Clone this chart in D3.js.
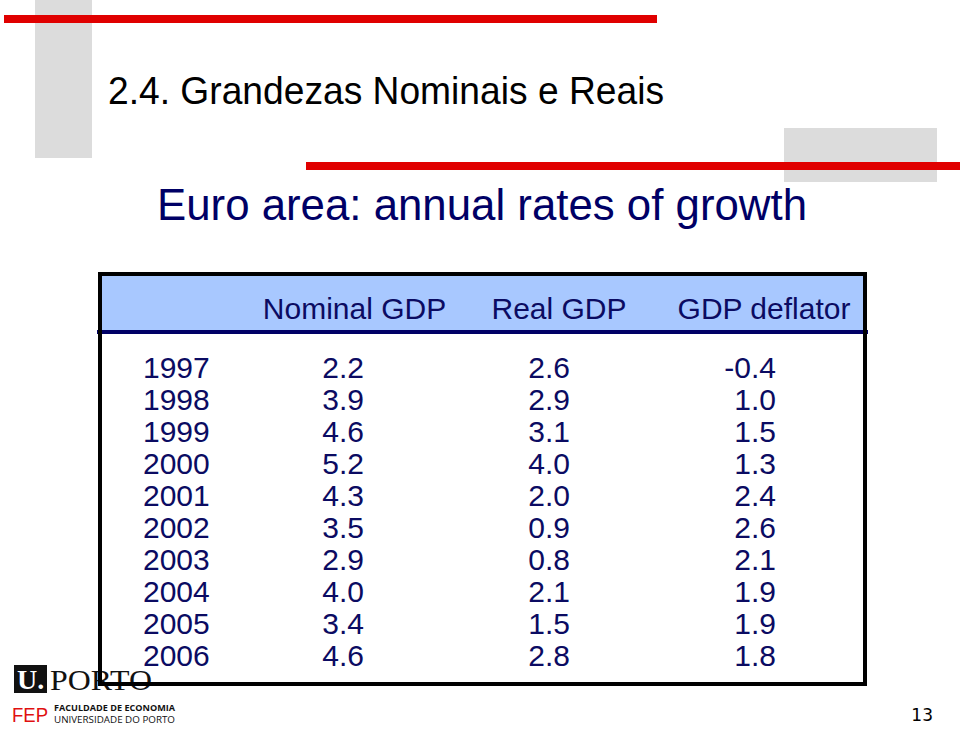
<!DOCTYPE html>
<html>
<head>
<meta charset="utf-8">
<script src="https://cdn.jsdelivr.net/npm/d3@7"></script>
<style>
  html, body { margin: 0; padding: 0; background: #ffffff; }
  svg { display: block; }
</style>
</head>
<body>
<svg id="slide" width="960" height="729"></svg>
<script>
// ---- data ----
const years = ["1997","1998","1999","2000","2001","2002","2003","2004","2005","2006"];
const nominalGDP = [2.2, 3.9, 4.6, 5.2, 4.3, 3.5, 2.9, 4.0, 3.4, 4.6];
const realGDP = [2.6, 2.9, 3.1, 4.0, 2.0, 0.9, 0.8, 2.1, 1.5, 2.8];
const gdpDeflator = [-0.4, 1.0, 1.5, 1.3, 2.4, 2.6, 2.1, 1.9, 1.9, 1.8];
const columnLabels = ["Nominal GDP", "Real GDP", "GDP deflator"];
const slideTitle = "2.4. Grandezas Nominais e Reais";
const chartTitle = "Euro area: annual rates of growth";
const pageNumber = "13";

// ---- drawing ----
const svg = d3.select("#slide");
const SANS = "'Liberation Sans', Arial, Helvetica, sans-serif";
const NAVY = "#0b0b62";
const RED = "#e00000";
const GRAY = "#dcdcdc";

// decorative slide template
svg.append("rect").attr("x", 35).attr("y", 0).attr("width", 57).attr("height", 158).attr("fill", GRAY);
svg.append("rect").attr("x", 784).attr("y", 128).attr("width", 153).attr("height", 54).attr("fill", GRAY);
svg.append("rect").attr("x", 4).attr("y", 15).attr("width", 653).attr("height", 8).attr("fill", RED);
svg.append("rect").attr("x", 306).attr("y", 162).attr("width", 654).attr("height", 8).attr("fill", RED);

svg.append("text").attr("x", 108).attr("y", 104)
  .attr("font-family", SANS).attr("font-size", 39).attr("fill", "#000")
  .attr("textLength", 556).attr("lengthAdjust", "spacingAndGlyphs")
  .text(slideTitle);

svg.append("text").attr("x", 157).attr("y", 220)
  .attr("font-family", SANS).attr("font-size", 44).attr("fill", "#000066")
  .attr("textLength", 650).attr("lengthAdjust", "spacingAndGlyphs")
  .text(chartTitle);

// table scales
const yRow = d3.scalePoint().domain(years).range([378, 666]);
const xHeader = d3.scaleOrdinal().domain(columnLabels).range([354.5, 559, 764]);
const xValueRight = d3.scaleOrdinal().domain(columnLabels).range([364, 570, 776]);
const fmt = d3.formatLocale({decimal: ".", thousands: ",", grouping: [3], currency: ["", ""], minus: "-"}).format(".1f");

// header band
svg.append("rect").attr("x", 102).attr("y", 276).attr("width", 761).attr("height", 55).attr("fill", "#a8c8ff");
svg.append("rect").attr("x", 97).attr("y", 330).attr("width", 771).attr("height", 4).attr("fill", "#000066");

svg.append("g").selectAll("text").data(columnLabels).join("text")
  .attr("x", d => xHeader(d)).attr("y", 319)
  .attr("text-anchor", "middle")
  .attr("font-family", SANS).attr("font-size", 30).attr("fill", NAVY)
  .text(d => d);

// body rows
const rows = years.map((y, i) => ({year: y, vals: [nominalGDP[i], realGDP[i], gdpDeflator[i]]}));
const rowG = svg.append("g").selectAll("g").data(rows).join("g");
rowG.append("text")
  .attr("x", 143).attr("y", d => yRow(d.year))
  .attr("font-family", SANS).attr("font-size", 30).attr("fill", NAVY)
  .text(d => d.year);
rowG.selectAll("text.v").data(d => d.vals.map((v, j) => ({v, col: columnLabels[j], year: d.year})))
  .join("text").attr("class", "v")
  .attr("x", d => xValueRight(d.col)).attr("y", d => yRow(d.year))
  .attr("text-anchor", "end")
  .attr("font-family", SANS).attr("font-size", 30).attr("fill", NAVY)
  .text(d => fmt(d.v));

// logo (behind the table border)
const logo = svg.append("g");
logo.append("rect").attr("x", 14).attr("y", 665).attr("width", 33).attr("height", 28).attr("fill", "#111");
logo.append("text").attr("x", 17).attr("y", 689)
  .attr("font-family", "'Liberation Serif', 'Times New Roman', serif").attr("font-weight", "bold")
  .attr("font-size", 28).attr("fill", "#fff").text("U.");
logo.append("text").attr("x", 50).attr("y", 690)
  .attr("font-family", "'Liberation Serif', 'Times New Roman', serif")
  .attr("font-size", 30).attr("fill", "#111")
  .attr("textLength", 102).attr("lengthAdjust", "spacingAndGlyphs").text("PORTO");
logo.append("text").attr("x", 12).attr("y", 722)
  .attr("font-family", SANS).attr("font-size", 20).attr("fill", "#e01010")
  .attr("textLength", 36).attr("lengthAdjust", "spacingAndGlyphs").text("FEP");
logo.append("text").attr("x", 54).attr("y", 711)
  .attr("font-family", "'Open Sans', 'DejaVu Sans', sans-serif").attr("font-weight", "bold")
  .attr("font-size", 8.5).attr("fill", "#111")
  .attr("textLength", 121).attr("lengthAdjust", "spacingAndGlyphs").text("FACULDADE DE ECONOMIA");
logo.append("text").attr("x", 54).attr("y", 723)
  .attr("font-family", "'Open Sans', 'DejaVu Sans', sans-serif")
  .attr("font-size", 8.5).attr("fill", "#111")
  .attr("textLength", 121).attr("lengthAdjust", "spacingAndGlyphs").text("UNIVERSIDADE DO PORTO");

// table border
svg.append("rect").attr("x", 100).attr("y", 274).attr("width", 765).attr("height", 410)
  .attr("fill", "none").attr("stroke", "#000").attr("stroke-width", 4);

// page number
svg.append("text").attr("x", 933).attr("y", 721).attr("text-anchor", "end")
  .attr("font-family", "'DejaVu Sans', Verdana, sans-serif").attr("font-size", 17).attr("fill", "#000")
  .text(pageNumber);
</script>
</body>
</html>
